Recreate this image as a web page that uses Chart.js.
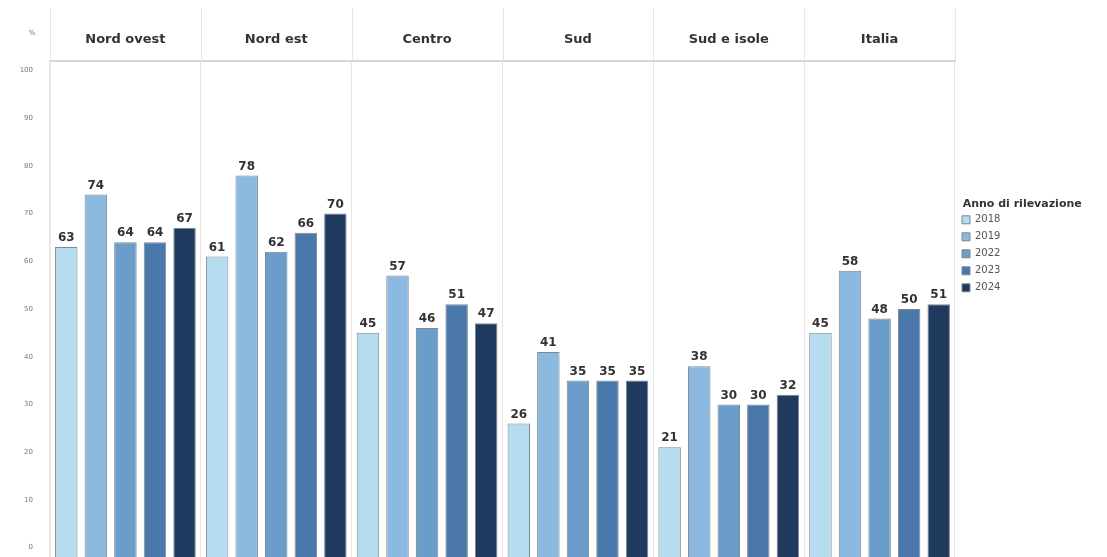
<!DOCTYPE html>
<html>
<head>
<meta charset="utf-8">
<script src="https://cdn.jsdelivr.net/npm/chart.js@4.4.1/dist/chart.umd.min.js"></script>
<style>
    html, body { margin: 0; padding: 0; background: #fff; }
    #wrap { width: 1107px; height: 557px; position: relative; }
</style>
</head>
<body>
<div id="wrap"><canvas id="myChart"></canvas></div>
<script>
// Categories (ripartizioni) and survey years
const areas = ['Nord ovest', 'Nord est', 'Centro', 'Sud', 'Sud e isole', 'Italia'];
const years = ['2018', '2019', '2022', '2023', '2024'];

// Values (%) per year, one per area
const v2018 = [63, 61, 45, 26, 21, 45];
const v2019 = [74, 78, 57, 41, 38, 58];
const v2022 = [64, 62, 46, 35, 30, 48];
const v2023 = [64, 66, 51, 35, 30, 50];
const v2024 = [67, 70, 47, 35, 32, 51];

// Y axis ticks
const yTicks = [0, 10, 20, 30, 40, 50, 60, 70, 80, 90, 100];

const yearColors = ['#b5dcef', '#8cb9df', '#6b9dca', '#4a78ab', '#1f3a5e'];
const seriesValues = [v2018, v2019, v2022, v2023, v2024];
const FONT = '"DejaVu Sans", sans-serif';

// Header separators, value labels above bars and the "%" unit label
const extras = {
    id: 'extras',
    beforeLayout(chart) {
        // legend as wide as its title (Chart.js only measures the items)
        const lg = chart.legend;
        if (lg && !lg._wide) {
            const fit = lg.fit;
            lg.fit = function () { fit.call(this); this.width = 152; };
            lg._wide = true;
        }
    },
    beforeDatasetsDraw(chart) {
        const ctx = chart.ctx;
        const xs = chart.scales.x;
        ctx.save();
        ctx.strokeStyle = '#e6e6e6';
        ctx.lineWidth = 1;
        for (let i = 0; i <= areas.length; i++) {
            const px = Math.round(xs.getPixelForValue(i - 0.5)) + 0.5;
            ctx.beginPath();
            ctx.moveTo(px, 8);
            ctx.lineTo(px, chart.chartArea.top);
            ctx.stroke();
        }
        ctx.restore();
    },
    afterDatasetsDraw(chart) {
        const ctx = chart.ctx;
        ctx.save();
        ctx.font = 'bold 12px ' + FONT;
        ctx.fillStyle = '#333';
        ctx.textAlign = 'center';
        ctx.textBaseline = 'bottom';
        chart.data.datasets.forEach((ds, i) => {
            const meta = chart.getDatasetMeta(i);
            meta.data.forEach((bar, j) => {
                ctx.fillText(ds.data[j], bar.x, bar.y - 3);
            });
        });
        // unit label
        ctx.font = '7px ' + FONT;
        ctx.fillStyle = '#777';
        ctx.textBaseline = 'middle';
        ctx.fillText('%', chart.chartArea.left - 18, 33);
        ctx.restore();
    }
};

const ctx = document.getElementById('myChart').getContext('2d');
new Chart(ctx, {
    type: 'bar',
    data: {
        labels: areas,
        datasets: years.map((y, i) => ({
            label: y,
            data: seriesValues[i],
            base: -2,
            backgroundColor: yearColors[i],
            borderColor: '#7d8791',
            borderWidth: 1,
            categoryPercentage: 0.98,
            barPercentage: 0.76
        }))
    },
    options: {
        responsive: true,
        maintainAspectRatio: false,
        animation: false,
        layout: {
            padding: { top: 0, bottom: 0, left: 0, right: 0 }
        },
        scales: {
            x: {
                position: 'top',
                afterFit: scale => { scale.height = 61; },
                grid: {
                    color: '#e6e6e6',
                    offset: true,
                    drawTicks: false
                },
                border: { color: '#d6d6d6', width: 2 },
                ticks: {
                    color: '#333',
                    padding: 14,
                    font: { family: FONT, size: 13, weight: 'bold' }
                }
            },
            y: {
                min: -2,
                max: 102,
                afterBuildTicks: scale => {
                    scale.ticks = yTicks.map(v => ({ value: v }));
                },
                afterFit: scale => {
                    scale.width = 50;
                    scale.paddingTop = 0;
                    scale.paddingBottom = 0;
                },
                grid: { display: false },
                border: { color: '#ececec', width: 1, dash: [2, 2] },
                ticks: {
                    color: '#777',
                    padding: 9,
                    font: { family: FONT, size: 7 }
                }
            }
        },
        plugins: {
            legend: {
                position: 'right',
                align: 'start',
                title: {
                    display: true,
                    text: '  Anno di rilevazione',
                    position: 'start',
                    color: '#333',
                    padding: { top: 199, bottom: 0 },
                    font: { family: FONT, size: 11, weight: 'bold', lineHeight: 0.8 }
                },
                labels: {
                    boxWidth: 8,
                    boxHeight: 8,
                    padding: 7,
                    color: '#555',
                    font: { family: FONT, size: 10 }
                }
            },
            tooltip: { enabled: false }
        }
    },
    plugins: [extras]
});
</script>
</body>
</html>
